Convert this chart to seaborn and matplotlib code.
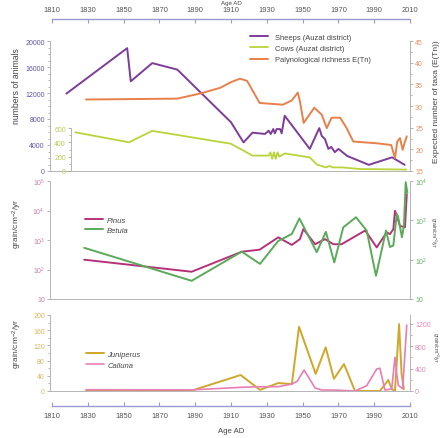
import numpy as np
import matplotlib
matplotlib.use("Agg")
import matplotlib.pyplot as plt
import seaborn as sns
from matplotlib.ticker import MultipleLocator, LogLocator, NullLocator, FuncFormatter

# ---- data ----
sheep_years = [1818, 1852, 1854, 1866, 1880, 1910, 1917, 1922, 1929, 1931, 1932.2, 1933.6, 1934.5,
               1935.5, 1937.4, 1938.3, 1940, 1954, 1959.3, 1960.7, 1962.5, 1964.4, 1966, 1968, 1970,
               1975, 1987, 2000, 2007]
sheep = [11900, 18900, 13800, 16600, 15600, 7500, 4400, 5900, 5700, 6200, 5700, 6450, 5800,
         6450, 6450, 5800, 8500, 3400, 6600, 5400, 4900, 3400, 3700, 2900, 3400,
         2300, 950, 2100, 950]

cow_years = [1823, 1853, 1866, 1893, 1910, 1922, 1931, 1932, 1933, 1934, 1935, 1936, 1937, 1940,
             1954, 1958, 1963, 1965, 1967, 1972, 1982, 2008]
cows = [540, 400, 560, 450, 380, 215, 215, 260, 170, 260, 170, 260, 200, 245,
        190, 90, 50, 70, 50, 50, 28, 20]

rich_years = [1829, 1880, 1893, 1904, 1910, 1915, 1919, 1926, 1939, 1944, 1947.3, 1948.5, 1950.6,
              1956.5, 1960.7, 1963.5, 1966.2, 1971, 1974.6, 1978.3, 1991.4, 1999.5, 2001.6,
              2002.9, 2004.4, 2005.9, 2007.2, 2008.2]
richness = [31.5, 31.7, 32.9, 34.2, 35.5, 36.3, 35.8, 30.7, 30.3, 31.3, 33.1, 31.1, 26.1,
            29.6, 28.0, 24.9, 27.3, 27.3, 24.9, 21.8, 21.4, 21.0, 18.0,
            21.8, 22.6, 19.9, 21.8, 23.0]

pinus_years = [1828, 1888, 1916, 1926, 1936.4, 1944, 1948.5, 1950.4, 1957, 1962.5, 1967.2, 1971.8,
               1985, 1991.4, 1997, 1998.8, 2000.7, 2001.6, 2002.6, 2004.4, 2007.2, 2008.2]
pinus = [215, 84, 400, 470, 1230, 680, 1070, 2350, 720, 1070, 720, 720,
         2100, 560, 1820, 1580, 2350, 9800, 6600, 3000, 2700, 36000]

betula_years = [1828, 1888, 1916, 1926.2, 1936.4, 1944, 1948.2, 1957.9, 1963, 1967.7, 1972.7, 1979.8,
                1985.8, 1991, 1996.6, 1998.8, 2000.7, 2002.6, 2003.3, 2005.5, 2006.6, 2007.6, 2008.5]
betula = [200, 29, 160, 78, 300, 450, 1120, 155, 510, 85, 660, 1200,
          550, 39, 550, 210, 230, 1450, 1260, 370, 740, 9300, 5100]

jun_years = [1829, 1888, 1915.4, 1926.2, 1936.4, 1944, 1948, 1957.3, 1962.9, 1967.5, 1973.1, 1979.3,
             1993.2, 1997.9, 1999.8, 2001.6, 2003.9, 2005.3, 2006.6]
juniperus = [0, 1, 42, 3, 21, 18, 169, 45, 115, 32, 71, 0,
             0, 29, 5, 0, 176, 45, 5]

cal_years = [1829, 1888, 1916, 1926.2, 1936.4, 1944, 1947, 1950.8, 1957, 1960.7, 1967, 1979.3, 1985.8,
             1991.4, 1993.2, 1996, 1999.8, 2001.6, 2002.6, 2003.5, 2005.9, 2008.2]
calluna = [23, 20, 66, 77, 77, 125, 174, 376, 54, 18, 18, 0, 95,
           394, 407, 18, 36, 604, 305, 100, 40, 1180]

# ---- style ----
sns.set_theme(style="ticks")
plt.rcParams["font.family"] = ["Liberation Sans", "DejaVu Sans"]
plt.rcParams["mathtext.fontset"] = "custom"
plt.rcParams["mathtext.rm"] = "Liberation Sans"
plt.rcParams["mathtext.it"] = "Liberation Sans:italic"

W, H = 446, 439
fig = plt.figure(figsize=(W / 100, H / 100), dpi=100)


def box(x0, y0, x1, y1):
    return [x0 / W, 1 - y1 / H, (x1 - x0) / W, (y1 - y0) / H]


X0 = 1810 - 2 / 1.79
GRID = "#b4b4b4"
LAV = "#9a9ad2"
TXT = "#444444"

# shared age axis top & bottom
axx = fig.add_axes(box(52, 20, 410, 407))
axx.set_facecolor("none")
axx.set_xlim(1810, 2010)
axx.set_yticks([])
for s in ["left", "right"]:
    axx.spines[s].set_visible(False)
for s in ["top", "bottom"]:
    axx.spines[s].set_color(LAV)
    axx.spines[s].set_linewidth(1.0)
axx.set_xticks(range(1810, 2011, 20))
axx.tick_params(axis="x", top=True, labeltop=True, bottom=True, labelbottom=True,
                direction="in", length=3, width=0.8, color=LAV, labelsize=5.4,
                labelcolor="#555555", pad=4)


def panel_style(ax, keep):
    for s in ["left", "right", "top", "bottom"]:
        ax.spines[s].set_visible(s in keep)
        ax.spines[s].set_color(GRID)
        ax.spines[s].set_linewidth(0.7)
    ax.set_facecolor("none")
    ax.tick_params(axis="x", bottom=False, labelbottom=False, top=False)
    ax.set_xlabel("")
    ax.set_ylabel("")


def ytick_style(ax, side, color):
    kw = dict(axis="y", which="both", direction="out", width=0.5, color="#999999",
              labelsize=5.0, labelcolor=color, pad=1.5)
    if side == "left":
        ax.tick_params(left=True, right=False, labelleft=True, labelright=False, **kw)
    else:
        ax.tick_params(left=False, right=True, labelleft=False, labelright=True, **kw)
    ax.tick_params(axis="y", which="major", length=2.2)
    ax.tick_params(axis="y", which="minor", length=1.2)


# ---- panel 1 ----
ax1 = fig.add_axes(box(50, 42, 410, 172))
sns.lineplot(x=sheep_years, y=sheep, ax=ax1, color="#7d3c98", lw=1.4)
ax1.set_xlim(X0, 2010)
ax1.set_ylim(0, 20000)
ax1.set_yticks(range(0, 20001, 4000))
ax1.yaxis.set_minor_locator(MultipleLocator(1000))
panel_style(ax1, ["left", "bottom"])
ytick_style(ax1, "left", "#6155a8")

axc = fig.add_axes(box(71, 129, 410, 172))
sns.lineplot(x=cow_years, y=cows, ax=axc, color="#b8d43a", lw=1.3)
axc.set_xlim(1810 + 19 / 1.79, 2010)
axc.set_ylim(0, 600)
axc.set_yticks([0, 200, 400, 600])
axc.yaxis.set_minor_locator(MultipleLocator(100))
panel_style(axc, ["left"])
ytick_style(axc, "left", "#bccb55")

ax1r = ax1.twinx()
sns.lineplot(x=rich_years, y=richness, ax=ax1r, color="#e8804a", lw=1.4)
ax1r.set_xlim(X0, 2010)
ax1r.set_ylim(15, 45)
ax1r.set_yticks(range(15, 46, 5))
ax1r.yaxis.set_minor_locator(MultipleLocator(2.5))
panel_style(ax1r, ["right"])
ytick_style(ax1r, "right", "#e8905e")

# ---- panel 2 ----
def logfmt(v, p):
    n = int(round(np.log10(v)))
    return "10" if n == 1 else r"$\mathregular{10^{%d}}$" % n


ax2 = fig.add_axes(box(50, 182, 410, 300))
sns.lineplot(x=pinus_years, y=pinus, ax=ax2, color="#b5327a", lw=1.4)
ax2.set_yscale("log")
ax2.set_xlim(X0, 2010)
ax2.set_ylim(10, 1e5)
ax2.yaxis.set_major_locator(LogLocator(base=10, numticks=10))
ax2.yaxis.set_minor_locator(NullLocator())
ax2.yaxis.set_major_formatter(FuncFormatter(logfmt))
panel_style(ax2, ["left", "bottom"])
ytick_style(ax2, "left", "#d47aa6")

ax2r = ax2.twinx()
sns.lineplot(x=betula_years, y=betula, ax=ax2r, color="#5aaa5a", lw=1.4)
ax2r.set_yscale("log")
ax2r.set_xlim(X0, 2010)
ax2r.set_ylim(10, 1e4)
ax2r.yaxis.set_major_locator(LogLocator(base=10, numticks=10))
ax2r.yaxis.set_minor_locator(NullLocator())
ax2r.yaxis.set_major_formatter(FuncFormatter(logfmt))
panel_style(ax2r, ["right"])
ytick_style(ax2r, "right", "#6ab06a")

# ---- panel 3 ----
ax3 = fig.add_axes(box(50, 316, 410, 392))
sns.lineplot(x=jun_years, y=juniperus, ax=ax3, color="#cfa72a", lw=1.4)
ax3.set_xlim(X0, 2010)
ax3.set_ylim(0, 200)
ax3.set_yticks(range(0, 201, 40))
ax3.yaxis.set_minor_locator(MultipleLocator(20))
panel_style(ax3, ["left", "bottom"])
ytick_style(ax3, "left", "#d8b860")

ax3r = ax3.twinx()
sns.lineplot(x=cal_years, y=calluna, ax=ax3r, color="#e77fb5", lw=1.2)
ax3r.set_xlim(X0, 2010)
ax3r.set_ylim(0, 1360)
ax3r.set_yticks([0, 400, 800, 1200])
ax3r.yaxis.set_minor_locator(MultipleLocator(200))
panel_style(ax3r, ["right"])
ytick_style(ax3r, "right", "#e58ab5")

# ---- legends ----
leg1 = fig.legend(handles=[ax1.lines[0], axc.lines[0], ax1r.lines[0]],
                  labels=["Sheeps (Auzat district)", "Cows (Auzat district)",
                          "Palynological richness E(Tn)"],
                  loc="upper left", bbox_to_anchor=(250 / W, 1 - 34.7 / H), frameon=False,
                  fontsize=5.4, handlelength=2.4, handletextpad=0.9, labelspacing=0.52,
                  borderpad=0, borderaxespad=0)
leg2 = fig.legend(handles=[ax2.lines[0], ax2r.lines[0]], labels=["Pinus", "Betula"],
                  loc="upper left", bbox_to_anchor=(85 / W, 1 - 217.6 / H), frameon=False,
                  prop={"size": 5.5, "style": "italic"}, handlelength=2.4, handletextpad=0.5,
                  labelspacing=0.3, borderpad=0, borderaxespad=0)
leg3 = fig.legend(handles=[ax3.lines[0], ax3r.lines[0]], labels=["Juniperus", "Calluna"],
                  loc="upper left", bbox_to_anchor=(86 / W, 1 - 351.6 / H), frameon=False,
                  prop={"size": 5.5, "style": "italic"}, handlelength=2.4, handletextpad=0.4,
                  labelspacing=0.44, borderpad=0, borderaxespad=0)
for leg in (leg1, leg2, leg3):
    for t in leg.get_texts():
        t.set_color(TXT)

# ---- axis titles ----
grain = r"grain/cm$^{-2}$/yr"
fig.text(17 / W, 1 - 86 / H, "numbers of animals", rotation=90, ha="center", va="center",
         fontsize=6.2, color=TXT)
fig.text(436 / W, 1 - 102 / H, "Expected number of taxa (E(Tn))", rotation=90, ha="center",
         va="center", fontsize=6.0, color=TXT)
fig.text(17 / W, 1 - 224 / H, grain, rotation=90, ha="center", va="center", fontsize=6.0, color=TXT)
fig.text(17 / W, 1 - 344 / H, grain, rotation=90, ha="center", va="center", fontsize=6.0, color=TXT)
fig.text(433 / W, 1 - 232 / H, grain, rotation=270, ha="center", va="center", fontsize=3.6, color=TXT)
fig.text(435 / W, 1 - 347 / H, grain, rotation=270, ha="center", va="center", fontsize=3.6, color=TXT)
fig.text(231 / W, 1 - 432 / H, "Age AD", ha="center", va="center", fontsize=5.6, color=TXT)
fig.text(231 / W, 1 - 0.5 / H, "Age AD", ha="center", va="top", fontsize=4.4, color=TXT)

fig.savefig("out.png", dpi=100, facecolor="white")
